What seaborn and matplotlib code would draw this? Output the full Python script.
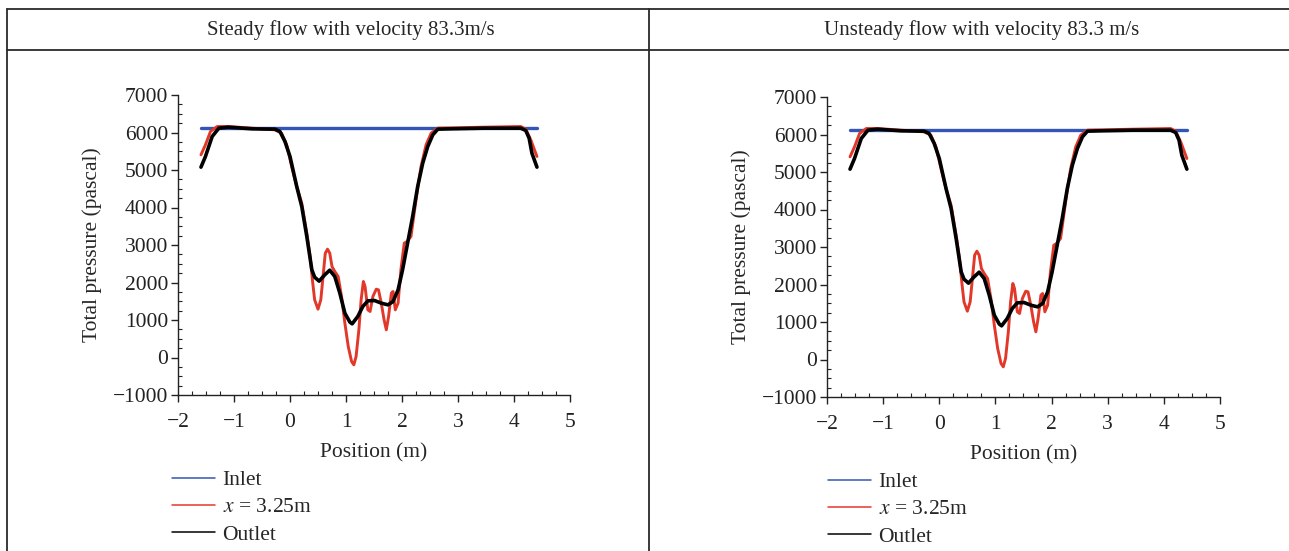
import numpy as np
import pandas as pd
import matplotlib
matplotlib.use('Agg')
import matplotlib.pyplot as plt
from matplotlib.lines import Line2D
from matplotlib.ticker import MultipleLocator
import seaborn as sns

# Panel headers
titles = ['Steady flow with velocity 83.3m/s', 'Unsteady flow with velocity 83.3 m/s']

# Inlet (flat)
inlet_x = [-1.59, 4.41]
inlet_y = [6130, 6130]

# Outlet (black)
outlet_x = [-1.59, -1.51, -1.39, -1.27, -1.10, -0.68, -0.27, -0.18, -0.09, 0.00,
            0.12, 0.21, 0.30, 0.39, 0.44, 0.52, 0.62, 0.71, 0.80, 0.89,
            0.98, 1.07, 1.11, 1.21, 1.30, 1.39, 1.51, 1.63, 1.75, 1.84,
            1.93, 2.01, 2.10, 2.19, 2.28, 2.37, 2.46, 2.55, 2.64, 2.87,
            3.47, 4.12, 4.21, 4.27, 4.32, 4.41]
outlet_y = [5076, 5360, 5893, 6116, 6142, 6098, 6089, 6027, 5760, 5360,
            4560, 4027, 3227, 2338, 2142, 2036, 2204, 2329, 2160, 1716,
            1182, 942, 898, 1093, 1360, 1511, 1520, 1449, 1404, 1493,
            1804, 2338, 3049, 3760, 4560, 5182, 5627, 5938, 6089, 6098,
            6116, 6116, 6053, 5849, 5449, 5076]

# x = 3.25 m (red)
mid_x = [-1.59, -1.51, -1.42, -1.30, -1.10, -0.68, -0.27, -0.15, -0.06, 0.03,
         0.12, 0.21, 0.30, 0.36, 0.40, 0.44, 0.50, 0.55, 0.59, 0.63,
         0.67, 0.71, 0.75, 0.80, 0.86, 0.92, 0.98, 1.04, 1.10, 1.14,
         1.18, 1.23, 1.27, 1.31, 1.34, 1.39, 1.43, 1.48, 1.54, 1.58,
         1.63, 1.68, 1.72, 1.76, 1.81, 1.84, 1.88, 1.93, 1.98, 2.04,
         2.09, 2.16, 2.25, 2.34, 2.43, 2.52, 2.64, 3.47, 4.12, 4.21,
         4.30, 4.41]
mid_y = [5404, 5671, 6027, 6160, 6160, 6116, 6071, 5982, 5671, 5093,
         4560, 4116, 3316, 2693, 2071, 1538, 1289, 1538, 2160, 2782,
         2889, 2782, 2427, 2293, 2160, 1627, 916, 293, -107, -196,
         27, 738, 1538, 2027, 1893, 1271, 1227, 1627, 1822, 1804,
         1449, 1004, 738, 1093, 1716, 1760, 1271, 1449, 2338, 3049,
         3093, 3227, 4204, 5093, 5671, 5982, 6116, 6142, 6160, 6089,
         5804, 5360]

series_names = ['Inlet', 'x = 3.25m', 'Outlet']
series_colors = ['#3355b5', '#e2382a', '#000000']

df = pd.concat([
    pd.DataFrame({'pos': inlet_x, 'p': inlet_y, 'series': 'Inlet'}),
    pd.DataFrame({'pos': mid_x, 'p': mid_y, 'series': 'x = 3.25m'}),
    pd.DataFrame({'pos': outlet_x, 'p': outlet_y, 'series': 'Outlet'}),
], ignore_index=True)

sns.set_style('ticks')
plt.rcParams['font.family'] = ['Liberation Serif', 'DejaVu Serif']
plt.rcParams['mathtext.fontset'] = 'stix'

W, H = 1289, 551
fig = plt.figure(figsize=(W / 100, H / 100), dpi=100)

# axes placement in pixels: (left, top, right, bottom)
boxes = [(178, 95, 570, 395), (827, 97, 1220, 397)]
legend_pos = [(172, 470), (828, 472)]
title_x = [351, 982]

for i, (l, t, r, b) in enumerate(boxes):
    ax = fig.add_axes([l / W, 1 - b / H, (r - l) / W, (b - t) / H])
    sns.lineplot(data=df, x='pos', y='p', hue='series', hue_order=series_names,
                 palette=series_colors, sort=False, estimator=None, ax=ax,
                 legend=False)
    for line, lw in zip(ax.get_lines(), [2.4, 2.1, 2.6]):
        line.set_linewidth(lw)
    ax.lines[2].set_zorder(5)

    ax.set_xlim(-2, 5)
    ax.set_ylim(-1000, 7000)
    ax.xaxis.set_minor_locator(MultipleLocator(0.25))
    ax.yaxis.set_minor_locator(MultipleLocator(250))
    ax.set_xticks(range(-2, 6))
    ax.set_xticklabels(['\u22122', '\u22121', '0', '1', '2', '3', '4', '5'])
    ax.set_yticks(range(-1000, 7001, 1000))
    ax.set_yticklabels(['\u22121000'] + [str(v) for v in range(0, 7001, 1000)])
    ax.tick_params(which='major', direction='out', length=5, width=1, labelsize=15.5,
                   colors='#222222', pad=2)
    ax.tick_params(axis='x', which='major', pad=8)
    ax.tick_params(which='minor', direction='in', length=3, width=0.8, colors='#222222')
    for s in ['top', 'right']:
        ax.spines[s].set_visible(False)
    for s in ['left', 'bottom']:
        ax.spines[s].set_linewidth(1)
        ax.spines[s].set_color('#222222')
    ax.set_xlabel('Position (m)', fontsize=15.5, labelpad=8)
    ax.set_ylabel('Total pressure (pascal)', fontsize=15.5, labelpad=8)

    handles = [Line2D([0], [0], color=c, lw=1.1) for c in series_colors]
    labels = ['Inlet', '$\\mathit{x}$ = 3.25m', 'Outlet']
    lx, ly = legend_pos[i]
    fig.legend(handles, labels, loc='upper left', bbox_to_anchor=(lx / W, 1 - ly / H),
               frameon=False, fontsize=15.5, handlelength=2.0, handletextpad=0.35,
               labelspacing=0.34, borderaxespad=0, borderpad=0)

    fig.text(title_x[i] / W, 1 - 30 / H, titles[i], ha='center', va='center', fontsize=15)

# table borders
border = dict(color='#2a2a2a', lw=1.3, transform=fig.transFigure)
fig.add_artist(Line2D([7 / W, 1], [1 - 9 / H, 1 - 9 / H], **border))
fig.add_artist(Line2D([7 / W, 1], [1 - 50 / H, 1 - 50 / H], **border))
fig.add_artist(Line2D([7 / W, 7 / W], [0, 1 - 9 / H], **border))
fig.add_artist(Line2D([649 / W, 649 / W], [0, 1 - 9 / H], **border))

fig.savefig('out.png', dpi=100)
